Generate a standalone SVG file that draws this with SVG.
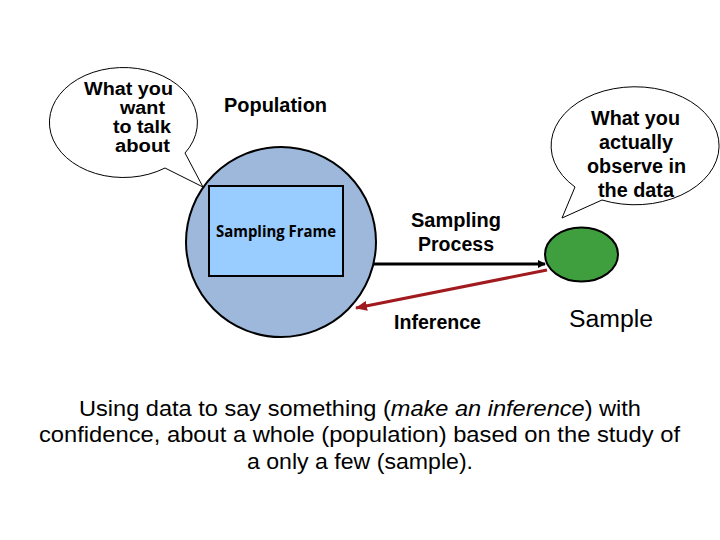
<svg xmlns="http://www.w3.org/2000/svg" width="720" height="540" viewBox="0 0 720 540">
<defs>
<style>
.b{font-family:"Liberation Sans",Arial,sans-serif;font-weight:bold;font-size:19.5px;fill:#000}
.s{font-size:18px}
.r{font-family:"Liberation Sans",Arial,sans-serif;font-size:22.5px;fill:#000}
.bub{fill:#fff;stroke:#000;stroke-width:1}
</style>
<marker id="ak" markerWidth="8" markerHeight="8" refX="7" refY="4" orient="auto" markerUnits="userSpaceOnUse"><path d="M0,0 L8,4 L0,8 z" fill="#000"/></marker>
<marker id="ar" markerWidth="12" markerHeight="10" refX="11" refY="5" orient="auto" markerUnits="userSpaceOnUse"><path d="M0,0 L12,5 L0,10 z" fill="#a01a1e"/></marker>
</defs>
<rect width="720" height="540" fill="#fff"/>
<g id="population">
<circle cx="281" cy="242" r="95" fill="#9db8da" stroke="#000" stroke-width="2"/>
<text class="b" x="224" y="112" textLength="103" lengthAdjust="spacingAndGlyphs">Population</text>
</g>
<g id="sampling-frame">
<rect x="209" y="186" width="134" height="90" fill="#99ccff" stroke="#000" stroke-width="2"/>
<text x="276" y="237" text-anchor="middle" font-family="'Open Sans','Noto Sans',sans-serif" font-weight="700" font-size="16" textLength="120" lengthAdjust="spacingAndGlyphs">Sampling Frame</text>
</g>
<g id="bubble-want">
<path class="bub" d="M185,153 A74,55 0 1 0 165,168 L203,187 Z"/>
<text class="b s" x="84" y="95" textLength="89" lengthAdjust="spacingAndGlyphs">What you</text>
<text class="b s" x="120" y="114" textLength="45" lengthAdjust="spacingAndGlyphs">want</text>
<text class="b s" x="113" y="133" textLength="58" lengthAdjust="spacingAndGlyphs">to talk</text>
<text class="b s" x="115" y="152" textLength="55" lengthAdjust="spacingAndGlyphs">about</text>
</g>
<g id="bubble-observe">
<path class="bub" d="M575,187 A84,59 0 1 1 602,200 L562,218 Z"/>
<text class="b" x="591" y="125" textLength="89" lengthAdjust="spacingAndGlyphs">What you</text>
<text class="b" x="599" y="149" textLength="74" lengthAdjust="spacingAndGlyphs">actually</text>
<text class="b" x="587" y="173" textLength="99" lengthAdjust="spacingAndGlyphs">observe in</text>
<text class="b" x="598" y="197" textLength="76" lengthAdjust="spacingAndGlyphs">the data</text>
</g>
<g id="sample">
<ellipse cx="581.5" cy="254.5" rx="36.5" ry="27" fill="#3f9f3f" stroke="#000" stroke-width="2"/>
<text x="569" y="327" font-family="'Liberation Sans',Arial,sans-serif" font-size="23" textLength="84" lengthAdjust="spacingAndGlyphs">Sample</text>
</g>
<g id="connectors">
<line x1="374" y1="264" x2="545" y2="264" stroke="#000" stroke-width="3" marker-end="url(#ak)"/>
<line x1="547" y1="270" x2="356" y2="308" stroke="#a01a1e" stroke-width="3" marker-end="url(#ar)"/>
</g>
<g id="labels">
<text class="b" x="411" y="227" textLength="90" lengthAdjust="spacingAndGlyphs">Sampling</text>
<text class="b" x="418" y="251" textLength="76" lengthAdjust="spacingAndGlyphs">Process</text>
<text class="b" x="394" y="329" textLength="87" lengthAdjust="spacingAndGlyphs">Inference</text>
</g>
<g id="caption">
<text class="r" x="79" y="416" textLength="562" lengthAdjust="spacingAndGlyphs">Using data to say something (<tspan font-style="italic">make an inference</tspan>) with</text>
<text class="r" x="39" y="442" textLength="641" lengthAdjust="spacingAndGlyphs">confidence, about a whole (population) based on the study of</text>
<text class="r" x="247" y="469" textLength="226" lengthAdjust="spacingAndGlyphs">a only a few (sample).</text>
</g>
</svg>
